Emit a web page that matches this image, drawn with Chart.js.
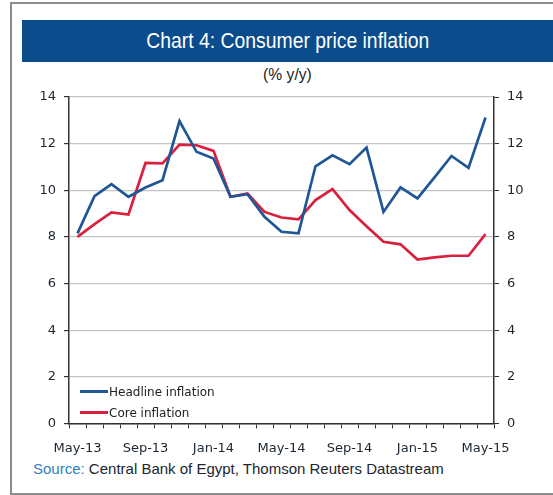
<!DOCTYPE html>
<html lang="en">
<head>
<meta charset="UTF-8">
<title>Chart 4: Consumer price inflation</title>
<script src="https://cdn.jsdelivr.net/npm/chart.js@4.4.1/dist/chart.umd.min.js"></script>
<style>
  body { margin: 0; background: #fff; }
  #wrap { position: relative; width: 553px; height: 495px; overflow: hidden; }
  #frame { position: absolute; left: 10px; top: 2px; width: 600px; height: 489px; border: 2px solid #8c8c8c; }
  #title { position: absolute; left: 22px; top: 20px; width: 531px; height: 42px; background: #0b4c8c; }
  #title div { color: #fff; font: 22px "Liberation Sans", sans-serif; line-height: 42px; text-align: center;
               transform: scaleX(0.88); transform-origin: 268px 0; }
  #sub { position: absolute; left: 22px; width: 531px; top: 65px; text-align: center;
         font: 17px "Liberation Sans", sans-serif; color: #222; transform: scaleX(0.92); transform-origin: 265px 0; }
  #src { position: absolute; left: 33px; top: 460px; font: 15px "Liberation Sans", sans-serif; color: #1c2630; }
  #src span { color: #2f7fc1; }
  #legend { position: absolute; left: 80px; top: 381px; font: 12px "DejaVu Sans", sans-serif; color: #222; }
  #legend div { height: 21px; display: flex; align-items: center; }
  #legend i { display: inline-block; width: 28px; height: 3px; margin-right: 1px; }
  canvas { position: absolute; left: 0; top: 80px; }
</style>
</head>
<body>
<div id="wrap">
  <div id="frame"></div>
  <div id="title"><div>Chart 4: Consumer price inflation</div></div>
  <div id="sub">(% y/y)</div>
  <canvas id="c" width="553" height="380"></canvas>
  <div id="legend"></div>
  <div id="src"><span>Source:</span> Central Bank of Egypt, Thomson Reuters Datastream</div>
</div>
<script>
  // monthly, May-13 .. May-15
  const months = ['May-13','Jun-13','Jul-13','Aug-13','Sep-13','Oct-13','Nov-13','Dec-13',
                  'Jan-14','Feb-14','Mar-14','Apr-14','May-14','Jun-14','Jul-14','Aug-14',
                  'Sep-14','Oct-14','Nov-14','Dec-14','Jan-15','Feb-15','Mar-15','Apr-15','May-15'];
  const headline = [8.15, 9.75, 10.26, 9.72, 10.12, 10.43, 12.97, 11.65, 11.36, 9.72, 9.83, 8.86, 8.22,
                    8.15, 11.03, 11.5, 11.12, 11.83, 9.07, 10.12, 9.65, 10.55, 11.47, 10.96, 13.12];
  const core = [8.0, 8.55, 9.05, 8.96, 11.17, 11.15, 11.96, 11.93, 11.69, 9.72, 9.86, 9.07, 8.83,
                8.75, 9.58, 10.05, 9.15, 8.46, 7.79, 7.68, 7.03, 7.12, 7.19, 7.19, 8.12];
  const seriesNames = ['Headline inflation', 'Core inflation'];
  const seriesColors = ['#1f5796', '#d9213f'];

  const tickFont = { family: 'DejaVu Sans', size: 13 };
  const axisColor = '#333';

  const chart = new Chart(document.getElementById('c'), {
    type: 'line',
    data: {
      labels: months,
      datasets: [
        { label: seriesNames[0], data: headline, borderColor: seriesColors[0], yAxisID: 'y' },
        { label: seriesNames[1], data: core, borderColor: seriesColors[1], yAxisID: 'y' }
      ]
    },
    options: {
      responsive: false,
      animation: false,
      layout: { padding: { top: 17, left: 0, right: 0, bottom: 0 } },
      elements: { line: { borderWidth: 2.7, tension: 0 }, point: { radius: 0 } },
      plugins: { legend: { display: false }, tooltip: { enabled: false } },
      scales: {
        x: {
          offset: true,
          grid: { offset: true, drawOnChartArea: false, color: axisColor, tickLength: 5 },
          border: { color: axisColor, width: 1.5 },
          ticks: {
            autoSkip: false, maxRotation: 0, padding: 12, color: '#1c2630', font: tickFont,
            callback: function (v, i) { return i % 4 === 0 ? months[i] : ''; }
          },
          afterFit: function (s) { s.height = 36.6; }
        },
        y: {
          position: 'left', min: 0, max: 14,
          grid: { color: '#c4c4c4', tickColor: axisColor, tickLength: 5, lineWidth: 1.2 },
          border: { color: axisColor, width: 1.5 },
          ticks: { stepSize: 2, padding: 8, color: '#1c2630', font: tickFont },
          afterFit: function (s) { s.width = 69; }
        },
        y2: {
          position: 'right', min: 0, max: 14,
          grid: { drawOnChartArea: false, color: axisColor, tickLength: 5 },
          border: { color: axisColor, width: 1.5 },
          ticks: { stepSize: 2, padding: 8, color: '#1c2630', font: tickFont },
          afterFit: function (s) { s.width = 59; }
        }
      }
    }
  });

  const legend = document.getElementById('legend');
  chart.data.datasets.forEach(function (ds) {
    const row = document.createElement('div');
    row.innerHTML = '<i style="background:' + ds.borderColor + '"></i>' + ds.label;
    legend.appendChild(row);
  });
</script>
</body>
</html>
